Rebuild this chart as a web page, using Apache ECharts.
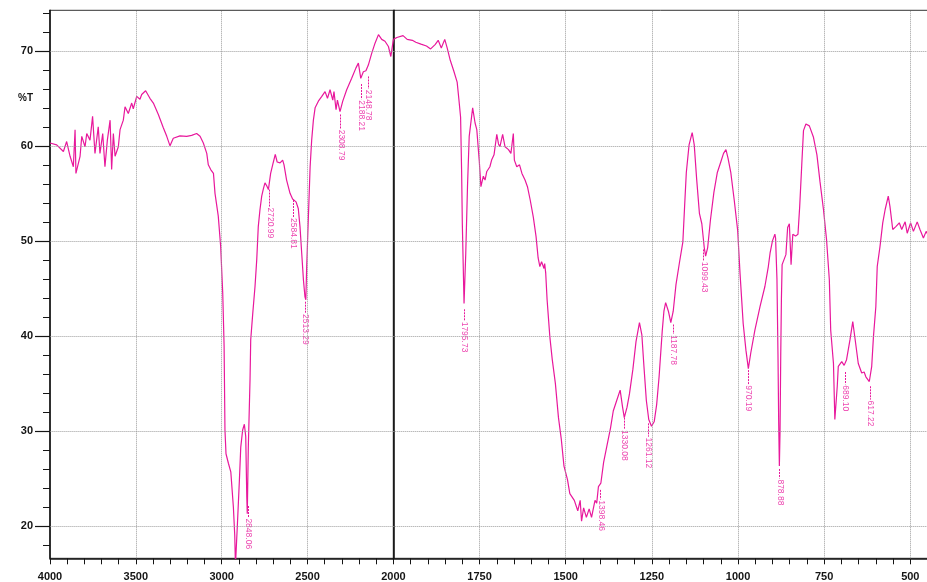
<!DOCTYPE html>
<html>
<head>
<meta charset="utf-8">
<title>IR spectrum</title>
<script src="https://cdn.jsdelivr.net/npm/echarts@6/dist/echarts.min.js"></script>
<style>
html, body { margin: 0; padding: 0; background: #fff; }
#main { width: 927px; height: 582px; }
</style>
</head>
<body>
<div id="main"></div>
<script>
// 4000-2000 cm-1 part (compressed scale)
const highWave = [4000, 3961, 3922, 3903, 3883, 3864, 3854, 3849, 3825, 3815, 3796, 3786, 3767, 3752, 3738, 3719, 3709, 3693, 3680, 3666,
  3650, 3641, 3631, 3621, 3602, 3592, 3573, 3563, 3544, 3524, 3515, 3495, 3476, 3466, 3443, 3418, 3398, 3369, 3340, 3320,
  3301, 3282, 3243, 3204, 3175, 3146, 3126, 3107, 3087, 3078, 3064, 3048, 3039, 3020, 3006, 2994, 2986, 2981, 2975, 2961,
  2947, 2932, 2924, 2920, 2913, 2909, 2897, 2889, 2878, 2868, 2860, 2854, 2851, 2845, 2835, 2831, 2819, 2806, 2796, 2787,
  2777, 2767, 2757, 2748, 2738, 2728, 2715, 2699, 2688, 2677, 2660, 2645, 2637, 2622, 2602, 2587, 2567, 2554, 2544, 2534,
  2524, 2515, 2510, 2505, 2495, 2485, 2476, 2466, 2456, 2437, 2417, 2398, 2384, 2369, 2353, 2346, 2334, 2326, 2311, 2295,
  2272, 2243, 2218, 2204, 2190, 2175, 2160, 2146, 2126, 2107, 2087, 2068, 2049, 2029, 2015, 2000];
const highT = [60.3, 60.1, 59.4, 60.45, 58.9, 57.8, 61.7, 57.1, 58.9, 61.0, 59.9, 61.3, 60.6, 63.1, 59.2, 62.0, 59.2, 61.3, 57.8, 60.6,
  62.7, 57.5, 61.3, 58.9, 59.9, 61.7, 62.7, 64.1, 63.4, 64.5, 63.9, 65.2, 64.9, 65.4, 65.8, 65.0, 64.5, 63.3, 61.9, 61.0,
  60.0, 60.8, 61.05, 61.0, 61.1, 61.3, 61.0, 60.3, 59.2, 58.0, 57.5, 57.1, 55.0, 52.6, 49.4, 44.5, 38.9, 30.1, 27.6, 26.6,
  25.7, 22.0, 19.0, 15.8, 18.5, 20.0, 24.8, 28.3, 30.1, 30.7, 29.4, 23.1, 21.3, 28.3, 35.4, 39.6, 42.4, 45.2, 48.0, 51.5,
  53.3, 54.7, 55.5, 56.1, 55.8, 55.4, 57.1, 58.3, 59.1, 58.3, 58.2, 58.5, 58.0, 56.4, 55.0, 54.4, 54.1, 53.4, 51.5, 48.7,
  45.9, 44.1, 43.8, 47.3, 52.6, 57.8, 60.6, 62.7, 64.0, 64.7, 65.2, 65.7, 65.0, 65.9, 64.8, 65.7, 63.8, 64.8, 63.6, 64.7,
  65.9, 67.1, 68.2, 68.7, 67.1, 67.8, 67.9, 68.5, 69.75, 70.8, 71.7, 71.2, 71.0, 70.45, 69.4, 71.2];

// 2000-450 cm-1 part (expanded scale)
const lowWave = [2000, 1990, 1972, 1960, 1945, 1935, 1920, 1904, 1892, 1879, 1870, 1861, 1851, 1844, 1835, 1825, 1815, 1810, 1805, 1802,
  1800, 1795, 1790, 1785, 1780, 1773, 1770, 1763, 1758, 1751, 1746, 1739, 1734, 1729, 1720, 1715, 1708, 1700, 1695, 1691,
  1683, 1676, 1666, 1659, 1652, 1649, 1642, 1634, 1627, 1618, 1611, 1603, 1594, 1586, 1580, 1575, 1570, 1563, 1561, 1558,
  1554, 1546, 1539, 1530, 1521, 1513, 1505, 1495, 1488, 1475, 1465, 1458, 1454, 1448, 1440, 1432, 1425, 1415, 1410, 1405,
  1398, 1390, 1380, 1370, 1362, 1352, 1342, 1335, 1330, 1322, 1315, 1305, 1296, 1286, 1279, 1273, 1266, 1259, 1251, 1243,
  1236, 1229, 1220, 1215, 1210, 1202, 1195, 1188, 1180, 1170, 1160, 1155, 1150, 1142, 1133, 1127, 1120, 1112, 1105, 1098,
  1094, 1088, 1080, 1070, 1060, 1050, 1042, 1035, 1029, 1021, 1011, 1001, 994, 985, 977, 970, 963, 951, 936, 922,
  912, 907, 900, 893, 891, 887, 884, 882, 880, 878, 876, 874, 872, 861, 856, 851, 846, 841, 833, 826,
  821, 815, 810, 803, 793, 781, 771, 762, 752, 743, 735, 731, 723, 719, 712, 709, 699, 692, 685, 675,
  667, 660, 651, 641, 634, 629, 619, 612, 607, 600, 596, 588, 580, 573, 564, 559, 551, 542, 532, 525,
  515, 509, 499, 491, 480, 472, 462, 454, 448, 442];
const lowT = [71.2, 71.4, 71.6, 71.2, 71.1, 70.9, 70.7, 70.5, 70.2, 70.65, 71.1, 70.3, 71.2, 70.3, 69.0, 67.9, 66.7, 64.9, 63.0, 57.2,
  51.8, 43.4, 48.7, 55.7, 61.0, 63.1, 64.0, 62.4, 61.7, 58.5, 55.7, 56.8, 56.4, 57.3, 57.8, 58.5, 59.05, 61.2, 60.2, 59.9,
  61.2, 59.9, 59.6, 59.2, 61.3, 58.5, 57.8, 58.0, 57.1, 56.4, 55.7, 54.3, 52.5, 50.45, 48.2, 47.3, 47.8, 47.1, 47.6, 46.6,
  43.8, 39.9, 37.5, 35.0, 31.4, 29.2, 26.3, 24.9, 23.4, 22.7, 21.6, 22.7, 20.5, 21.9, 20.9, 21.8, 20.9, 22.7, 22.4, 24.15,
  24.5, 26.7, 28.5, 30.3, 32.1, 33.2, 34.3, 32.5, 31.4, 32.5, 33.9, 36.5, 39.4, 41.4, 40.1, 36.8, 33.2, 31.2, 30.5, 31.0,
  32.8, 35.7, 40.45, 42.6, 43.5, 42.6, 41.4, 42.6, 45.4, 47.7, 49.9, 53.6, 57.2, 60.1, 61.4, 60.1, 56.5, 52.9, 51.8, 49.3,
  48.4, 49.3, 52.2, 55.1, 57.2, 58.3, 59.2, 59.6, 58.7, 57.2, 54.3, 51.1, 46.5, 41.3, 38.5, 36.55, 38.2, 40.6, 43.1, 45.2,
  47.3, 48.7, 50.0, 50.7, 50.3, 46.0, 38.0, 31.0, 26.3, 30.0, 38.0, 44.0, 47.5, 48.55, 51.4, 51.8, 47.5, 50.7, 50.5, 50.7,
  53.6, 58.0, 61.6, 62.3, 62.1, 60.9, 59.05, 56.2, 53.3, 50.1, 45.9, 40.6, 37.1, 31.2, 34.7, 36.8, 37.3, 36.9, 37.5, 39.6,
  41.5, 39.6, 37.1, 36.1, 36.2, 35.7, 35.2, 36.8, 39.9, 43.1, 47.3, 49.4, 51.9, 53.3, 54.7, 53.6, 51.2, 51.5, 51.9, 51.2,
  52.0, 50.8, 51.9, 51.0, 52.0, 51.2, 50.3, 51.0, 50.6, 50.9];

// peak marks: text, top of the leader line, top of the text (in %T)
const peakText = ['2848.06', '2720.99', '2584.81', '2513.29', '2308.79', '2188.21', '2148.78',
  '1795.73', '1398.46', '1330.08', '1261.12', '1187.78', '1099.43', '970.19', '878.88', '689.10', '617.22'];
const peakTip = [22.1, 55.4, 54.3, 43.6, 63.3, 66.5, 67.3,
  42.8, 23.8, 31.4, 30.8, 41.2, 49.1, 36.4, 26.0, 36.2, 34.7];
const peakTextTop = [20.8, 53.5, 52.4, 42.3, 61.7, 64.8, 65.9,
  41.5, 22.7, 30.1, 29.3, 40.1, 47.8, 34.8, 24.9, 34.8, 33.2];

const highLabels = [4000, 3500, 3000, 2500];
const lowLabels = [2000, 1750, 1500, 1250, 1000, 750, 500];
const highMinor = [4000, 3900, 3800, 3700, 3600, 3500, 3400, 3300, 3200, 3100, 3000, 2900, 2800, 2700, 2600, 2500, 2400, 2300, 2200, 2100];
const lowMinor = [2000, 1950, 1900, 1850, 1800, 1750, 1700, 1650, 1600, 1550, 1500, 1450, 1400, 1350, 1300, 1250, 1200, 1150, 1100, 1050,
  1000, 950, 900, 850, 800, 750, 700, 650, 600, 550, 500, 450];
const yLabels = [20, 30, 40, 50, 60, 70];
const yMinor = [18, 20, 22, 24, 26, 28, 30, 32, 34, 36, 38, 40, 42, 44, 46, 48, 50, 52, 54, 56, 58, 60, 62, 64, 66, 68, 70, 72, 74];

const PINK = '#e8189c';
const INK = '#151515';
const Y_MIN = 16.6, Y_MAX = 74.26;

const chart = echarts.init(document.getElementById('main'));

function gridLines(xs) {
  return {
    silent: true,
    animation: false,
    symbol: ['none', 'none'],
    label: { show: false },
    emphasis: { disabled: true },
    lineStyle: { color: '#9c9c9c', type: 'dotted', width: 1 },
    data: yLabels.map(v => ({ yAxis: v })).concat(xs.map(v => ({ xAxis: v })))
  };
}

function peakSeries(xi, yi, inHigh) {
  const idx = peakText.map((t, i) => i).filter(i => (Number(peakText[i]) > 2000) === inHigh);
  return {
    type: 'scatter',
    xAxisIndex: xi,
    yAxisIndex: yi,
    symbolSize: 1,
    itemStyle: { color: 'rgba(0,0,0,0)' },
    silent: true,
    z: 4,
    data: idx.map(i => ({ name: peakText[i], value: [Number(peakText[i]), peakTextTop[i]] })),
    label: {
      show: true,
      position: 'right',
      distance: 0,
      rotate: -90,
      align: 'left',
      verticalAlign: 'middle',
      fontSize: 8.5,
      fontFamily: 'Liberation Sans',
      color: PINK,
      formatter: p => p.name
    },
    markLine: {
      silent: true,
      animation: false,
      symbol: ['none', 'none'],
      label: { show: false },
      emphasis: { disabled: true },
      lineStyle: { color: PINK, type: [2, 1], width: 1 },
      data: idx.map(i => [
        { coord: [Number(peakText[i]), peakTip[i]] },
        { coord: [Number(peakText[i]), peakTextTop[i] + 0.1] }
      ])
    }
  };
}

const axisFont = {
  fontSize: 11, fontWeight: 'bold', fontFamily: 'Liberation Sans', color: INK,
  formatter: v => String(v)
};

chart.setOption({
  animation: false,
  backgroundColor: '#fff',
  graphic: [{
    type: 'text', left: 18, top: 93,
    style: { text: '%T', font: 'bold 10px "Liberation Sans"', fill: INK }
  }],
  grid: [
    { left: 50, top: 10.3, width: 343.4, height: 548, outerBoundsMode: 'none',
      show: true, borderColor: '#333', borderWidth: 1 },
    // right edge of this grid sits just past the canvas, as in the scan
    { left: 393.4, top: 10.3, width: 536.9, height: 548, outerBoundsMode: 'none',
      show: true, borderColor: '#333', borderWidth: 1 }
  ],
  xAxis: [
    {
      gridIndex: 0, type: 'value', position: 'bottom', min: 2000, max: 4000, inverse: true,
      axisLine: { lineStyle: { color: INK, width: 1.6 } },
      axisTick: { customValues: highMinor, length: 6, lineStyle: { color: INK } },
      axisLabel: Object.assign({ customValues: highLabels, margin: 13 }, axisFont),
      splitLine: { show: false }
    },
    {
      gridIndex: 1, type: 'value', position: 'bottom', min: 442, max: 2000, inverse: true,
      axisLine: { lineStyle: { color: INK, width: 1.6 } },
      axisTick: { customValues: lowMinor, length: 6, lineStyle: { color: INK } },
      axisLabel: Object.assign({ customValues: lowLabels, margin: 13 }, axisFont),
      splitLine: { show: false }
    }
  ],
  yAxis: [
    {
      gridIndex: 0, type: 'value', position: 'left', min: Y_MIN, max: Y_MAX,
      axisLine: { show: true, lineStyle: { color: INK, width: 1.6 } },
      axisTick: { show: true, customValues: yMinor, length: 7, lineStyle: { color: INK } },
      axisLabel: { show: false },
      splitLine: { show: false }
    },
    {
      gridIndex: 0, type: 'value', position: 'left', offset: 0, min: Y_MIN, max: Y_MAX,
      axisLine: { show: false },
      axisTick: { show: true, customValues: yLabels, length: 15, lineStyle: { color: INK, width: 1.2 } },
      axisLabel: Object.assign({ customValues: yLabels, margin: 17 }, axisFont),
      splitLine: { show: false }
    },
    {
      gridIndex: 1, type: 'value', position: 'left', min: Y_MIN, max: Y_MAX,
      axisLine: { show: true, lineStyle: { color: INK, width: 1.6 } },
      axisTick: { show: false },
      axisLabel: { show: false },
      splitLine: { show: false }
    }
  ],
  series: [
    {
      type: 'line', xAxisIndex: 0, yAxisIndex: 0, z: 3,
      showSymbol: false, silent: true,
      lineStyle: { color: PINK, width: 1.2 },
      data: highWave.map((w, i) => [w, highT[i]]),
      markLine: gridLines([3500, 3000, 2500])
    },
    {
      type: 'line', xAxisIndex: 1, yAxisIndex: 2, z: 3,
      showSymbol: false, silent: true,
      lineStyle: { color: PINK, width: 1.2 },
      data: lowWave.map((w, i) => [w, lowT[i]]),
      markLine: gridLines([1750, 1500, 1250, 1000, 750, 500])
    },
    peakSeries(0, 0, true),
    peakSeries(1, 2, false)
  ]
});
</script>
</body>
</html>
